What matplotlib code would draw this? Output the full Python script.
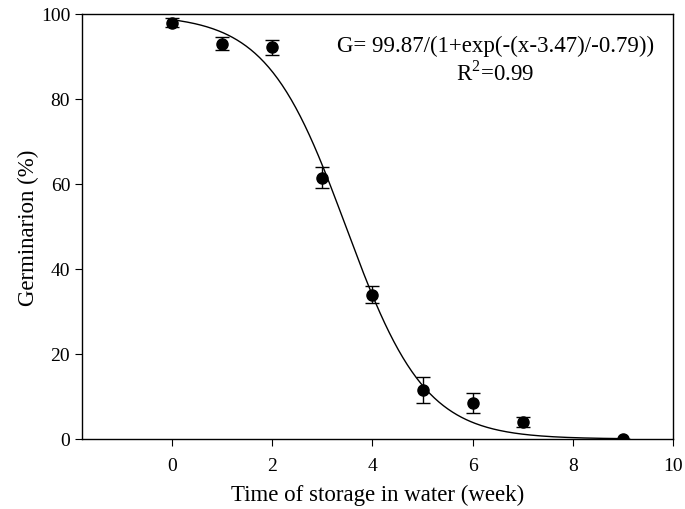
import matplotlib
matplotlib.use("Agg")
import matplotlib.pyplot as plt
import numpy as np

# dados
semanas = [0, 1, 2, 3, 4, 5, 6, 7, 9]
germinacao = [98.0, 93.0, 92.2, 61.5, 34.0, 11.5, 8.5, 4.0, 0.0]
erro = [1.0, 1.5, 1.8, 2.5, 2.0, 3.0, 2.3, 1.2, 0.0]

# parâmetros do ajuste sigmoidal
a, x0, b = 99.87, 3.47, -0.79

plt.rcParams['font.family'] = ['Liberation Serif', 'DejaVu Serif']
plt.rcParams['mathtext.fontset'] = 'custom'
plt.rcParams['mathtext.rm'] = 'Liberation Serif'

fig = plt.figure(figsize=(6.85, 5.1), dpi=100)
ax = fig.add_axes([82 / 685, 70 / 510, (673 - 82) / 685, (440 - 15) / 510])

xx = np.linspace(0, 9, 300)
ax.plot(xx, a / (1 + np.exp(-(xx - x0) / b)), color='black', linewidth=1.0)
ax.errorbar(semanas, germinacao, yerr=erro, fmt='o', color='black',
            markersize=8, capsize=5, elinewidth=1.0, capthick=1.0, zorder=3)

ax.set_xlim(-1.8, 10)
ax.set_ylim(0, 100)
ax.set_xticks([0, 2, 4, 6, 8, 10])
ax.set_yticks([0, 20, 40, 60, 80, 100])
ax.tick_params(direction='out', length=5, labelsize=14, top=False, right=False)
ax.tick_params(axis='x', pad=8)
for s in ax.spines.values():
    s.set_linewidth(1.0)

ax.set_xlabel('Time of storage in water (week)', fontsize=16.5, labelpad=7)
ax.set_ylabel('Germinarion (%)', fontsize=16.5, labelpad=1)

ax.text(0.699, 0.892, 'G= 99.87/(1+exp(-(x-3.47)/-0.79))\nR$^\\mathrm{2}$=0.99',
        transform=ax.transAxes, ha='center', va='center', fontsize=16.5,
        linespacing=1.2)

fig.savefig('out.png', dpi=100)
